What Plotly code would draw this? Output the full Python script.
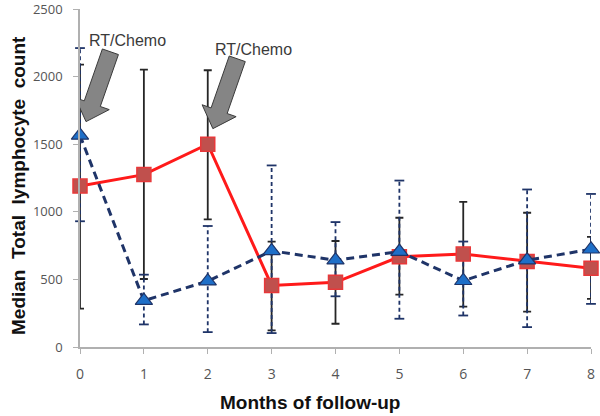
import plotly.graph_objects as go
import math

# ---- data ----
months = [0, 1, 2, 3, 4, 5, 6, 7, 8]
red_median = [1190, 1275, 1500, 455, 478, 667, 687, 632, 582]
red_upper = [2088, 2051, 2047, 780, 784, 956, 1074, 993, 814]
red_lower = [284, 503, 944, 123, 172, 387, 299, 262, 356]
blue_median = [1565, 343, 487, 711, 642, 706, 490, 642, 723]
blue_upper = [2211, 535, 895, 1343, 924, 1231, 780, 1165, 1132]
blue_lower = [930, 167, 110, 103, 375, 209, 233, 147, 319]
y_ticks = [0, 500, 1000, 1500, 2000, 2500]
arrow_label = "RT/Chemo"
arrow_tips = [(0.094, 1667), (2.08, 1615)]
label_pos = [(0.736, 2270), (2.71, 2204)]

# ---- geometry (pixels) ----
W, H = 600, 416
L, R, T, B = 80, 9, 9, 69
pw, ph = W - L - R, H - T - B
XMIN, XMAX, YMIN, YMAX = 0, 8, 0, 2500
sx = pw / (XMAX - XMIN)
sy = ph / (YMAX - YMIN)

fig = go.Figure()

# red error bars (solid black)
fig.add_trace(go.Scatter(
    x=months, y=red_median, mode="markers",
    marker=dict(size=1, color="rgba(0,0,0,0)"),
    error_y=dict(type="data", symmetric=False,
                 array=[u - m for u, m in zip(red_upper, red_median)],
                 arrayminus=[m - l for m, l in zip(red_median, red_lower)],
                 color="#262626", thickness=1.8, width=4),
    cliponaxis=False, showlegend=False, hoverinfo="skip"))

# blue error bars (dashed navy)
bx, by = [], []
for x, lo, hi in zip(months, blue_lower, blue_upper):
    bx += [x, x, None]
    by += [lo, hi, None]
fig.add_trace(go.Scatter(x=bx, y=by, mode="lines",
                         line=dict(color="#1F3468", width=1.8, dash="4px,3px"),
                         cliponaxis=False, showlegend=False, hoverinfo="skip"))
fig.add_trace(go.Scatter(x=months + months, y=blue_lower + blue_upper, mode="markers",
                         marker=dict(symbol="line-ew", size=7,
                                     line=dict(color="#1F3468", width=1.8)),
                         cliponaxis=False, showlegend=False, hoverinfo="skip"))

# red series
fig.add_trace(go.Scatter(
    x=months, y=red_median, mode="lines+markers",
    line=dict(color="#FF1A1A", width=3),
    marker=dict(symbol="square", size=14, color="#C0504D",
                line=dict(color="#E8383A", width=1.5)),
    cliponaxis=False, showlegend=False))

# blue series
fig.add_trace(go.Scatter(
    x=months, y=blue_median, mode="lines+markers",
    line=dict(color="#1F3468", width=3, dash="8px,5px"),
    marker=dict(symbol="triangle-up", size=15, color="#1E6FC8",
                line=dict(color="#1F3468", width=1.2)),
    cliponaxis=False, showlegend=False))

# block arrows
def block_arrow(tip, ux, uy, shaft_len=55, shaft_w=17, head_len=19, head_w=36):
    n = math.hypot(ux, uy)
    ux, uy = ux / n, uy / n
    px_, py_ = -uy, ux
    tot = shaft_len + head_len
    pts_px = [
        (0, 0),
        (-head_len * ux + head_w / 2 * px_, -head_len * uy + head_w / 2 * py_),
        (-head_len * ux + shaft_w / 2 * px_, -head_len * uy + shaft_w / 2 * py_),
        (-tot * ux + shaft_w / 2 * px_, -tot * uy + shaft_w / 2 * py_),
        (-tot * ux - shaft_w / 2 * px_, -tot * uy - shaft_w / 2 * py_),
        (-head_len * ux - shaft_w / 2 * px_, -head_len * uy - shaft_w / 2 * py_),
        (-head_len * ux - head_w / 2 * px_, -head_len * uy - head_w / 2 * py_),
    ]
    pts = [(tip[0] + dx / sx, tip[1] - dy / sy) for dx, dy in pts_px]
    return "M " + " L ".join(f"{x:.4f},{y:.2f}" for x, y in pts) + " Z"

for tip in arrow_tips:
    fig.add_shape(type="path", path=block_arrow(tip, -0.33, 0.945),
                  xref="x", yref="y", fillcolor="#858585",
                  line=dict(color="#3A3A3A", width=1), layer="above")

for (x, y) in label_pos:
    fig.add_annotation(x=x, y=y, xref="x", yref="y", text=arrow_label,
                       xanchor="center", yanchor="middle",
                       showarrow=False, font=dict(family="Liberation Sans", size=16, color="#3A3A3A"))

# axis titles
fig.add_annotation(xref="paper", yref="paper", x=(18 - L) / pw, y=(H - B - 186) / ph,
                   xanchor="center", yanchor="middle",
                   text="<b>Median  Total  lymphocyte  count</b>", textangle=-90,
                   showarrow=False, font=dict(family="Liberation Sans", size=19, color="#111111"))
fig.add_annotation(xref="paper", yref="paper", x=(310 - L) / pw, y=(H - B - 402) / ph,
                   xanchor="center", yanchor="middle",
                   text="<b>Months of follow-up</b>",
                   showarrow=False, font=dict(family="Liberation Sans", size=19, color="#111111"))

fig.update_layout(
    width=W, height=H, margin=dict(l=L, r=R, t=T, b=B, autoexpand=False),
    paper_bgcolor="white", plot_bgcolor="white",
    xaxis=dict(range=[XMIN, XMAX], tickvals=months, showgrid=False, zeroline=False,
               showline=True, linecolor="#B0B0B0", linewidth=1.5, automargin=False,
               ticks="outside", ticklen=5, tickcolor="#B0B0B0", tickwidth=1.2,
               ticklabelstandoff=8, ticklabeloverflow="allow",
               tickfont=dict(family="Open Sans", size=14, color="#555555")),
    yaxis=dict(range=[YMIN, YMAX], tickvals=y_ticks, showgrid=False, zeroline=False,
               showline=True, linecolor="#B0B0B0", linewidth=1.5, automargin=False,
               ticks="outside", ticklen=5, tickcolor="#B0B0B0", tickwidth=1.2,
               ticklabelstandoff=8, ticklabeloverflow="allow",
               tickfont=dict(family="Open Sans", size=13, color="#555555")),
)

fig.write_html("out.html", config={"displayModeBar": False},
               post_script="document.body.style.margin='0';")
